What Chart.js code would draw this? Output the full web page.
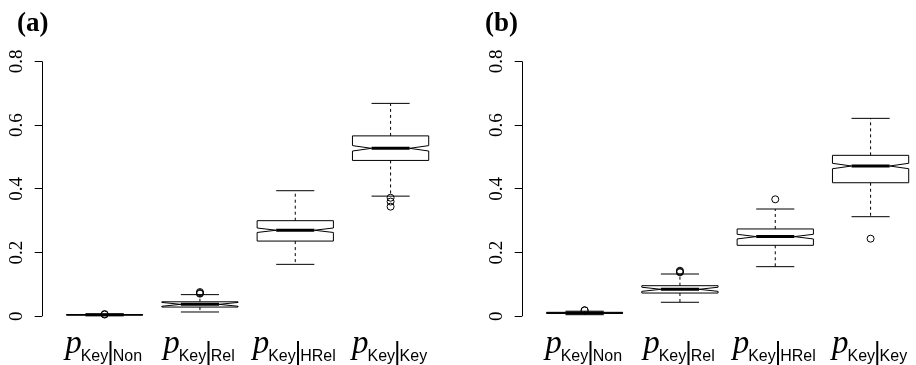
<!DOCTYPE html>
<html>
<head>
<meta charset="utf-8">
<script src="https://cdn.jsdelivr.net/npm/chart.js@4.4.1/dist/chart.umd.min.js"></script>
<style>
  html, body { margin: 0; padding: 0; background: #fff; overflow: hidden; width: 916px; height: 365px; }
  .panel { position: absolute; top: 0; height: 365px; overflow: hidden; }
</style>
</head>
<body>
<div class="panel" style="left:0;width:458px"><canvas id="chartA" width="458" height="365"></canvas></div>
<div class="panel" style="left:458px;width:458px"><canvas id="chartB" width="480" height="365"></canvas></div>
<script>
const categories = ['Non', 'Rel', 'HRel', 'Key'];
const yTicks = [0, 0.2, 0.4, 0.6, 0.8];

// panel (a)
const aLow   = [0.002, 0.0135, 0.163, 0.377];
const aQ1    = [0.004, 0.029, 0.236, 0.489];
const aMed   = [0.0045, 0.0375, 0.270, 0.527];
const aQ3    = [0.0055, 0.0455, 0.300, 0.566];
const aHigh  = [0.007, 0.068, 0.394, 0.668];
const aNotch = [0.0005, 0.006, 0.007, 0.0085];
const aOutliers = [[0.007, 0.0055], [0.076, 0.073, 0.071], [], [0.372, 0.360, 0.344]];

// panel (b)
const bLow   = [0.005, 0.044, 0.1557, 0.3125];
const bQ1    = [0.009, 0.073, 0.2227, 0.419];
const bMed   = [0.0105, 0.0847, 0.250, 0.4715];
const bQ3    = [0.0125, 0.096, 0.274, 0.505];
const bHigh  = [0.016, 0.1327, 0.3366, 0.621];
const bNotch = [0.001, 0.0065, 0.0073, 0.0085];
const bOutliers = [[0.019, 0.0185], [0.143, 0.140, 0.138], [0.367], [0.2435]];

function line(ctx, x1, y1, x2, y2) {
  ctx.beginPath(); ctx.moveTo(x1, y1); ctx.lineTo(x2, y2); ctx.stroke();
}

function makePanel(id, title, titleX, padRight, yWidth, low, q1, med, q3, high, notch, outliers) {
  const pts = [];
  outliers.forEach((arr, i) => arr.forEach(v => pts.push({ x: i + 1, y: v })));

  // R style notched boxes, drawn through the chart scales
  const boxPlugin = {
    id: 'rbox',
    beforeDatasetsDraw(chart) {
      const ctx = chart.ctx, xs = chart.scales.x, ys = chart.scales.y;
      const Y = v => ys.getPixelForValue(v);
      ctx.save();
      ctx.strokeStyle = '#000';
      categories.forEach((c, i) => {
        const x = xs.getPixelForValue(i + 1);
        const hw = xs.getPixelForValue(i + 1.4) - x, qw = hw / 2;
        ctx.lineWidth = 1;
        ctx.setLineDash([3, 3]);
        line(ctx, x, Y(q3[i]), x, Y(high[i]));
        line(ctx, x, Y(q1[i]), x, Y(low[i]));
        ctx.setLineDash([]);
        line(ctx, x - qw, Y(high[i]), x + qw, Y(high[i]));
        line(ctx, x - qw, Y(low[i]), x + qw, Y(low[i]));
        const n = notch[i], m = med[i];
        ctx.beginPath();
        ctx.moveTo(x - hw, Y(q1[i]));
        ctx.lineTo(x - hw, Y(m - n));
        ctx.lineTo(x - qw, Y(m));
        ctx.lineTo(x - hw, Y(m + n));
        ctx.lineTo(x - hw, Y(q3[i]));
        ctx.lineTo(x + hw, Y(q3[i]));
        ctx.lineTo(x + hw, Y(m + n));
        ctx.lineTo(x + qw, Y(m));
        ctx.lineTo(x + hw, Y(m - n));
        ctx.lineTo(x + hw, Y(q1[i]));
        ctx.closePath();
        ctx.stroke();
        ctx.lineWidth = 3;
        line(ctx, x - qw, Y(m), x + qw, Y(m));
      });
      ctx.restore();
    },
    afterDraw(chart) {
      const ctx = chart.ctx, xs = chart.scales.x, ys = chart.scales.y;
      ctx.save();
      // y axis line only between first and last tick
      ctx.strokeStyle = '#000'; ctx.lineWidth = 1;
      const ax = Math.round(chart.chartArea.left) + 0.5;
      line(ctx, ax, ys.getPixelForValue(yTicks[0]), ax, ys.getPixelForValue(yTicks[yTicks.length - 1]));
      ctx.fillStyle = '#000';
      ctx.textBaseline = 'alphabetic';
      // panel letter
      ctx.font = 'bold 27px "Liberation Serif"';
      ctx.fillText(title, titleX, 31);
      // x labels p_{Key|cat}
      const fP = 'italic 33px "Liberation Serif"', fS = '16px "Liberation Sans"', fBar = '25px "Liberation Sans"';
      categories.forEach((c, i) => {
        const x = xs.getPixelForValue(i + 1);
        ctx.font = fP; const wp = ctx.measureText('p').width - 1;
        ctx.font = fS; const wk = ctx.measureText('Key').width, wc = ctx.measureText(c).width;
        ctx.font = fBar; const wb = ctx.measureText('|').width - 2;
        let cx = x - (wp + wk + wb + wc) / 2 - 1;
        ctx.font = fP; ctx.fillText('p', cx, 353); cx += wp;
        ctx.font = fS; ctx.fillText('Key', cx, 361); cx += wk - 1;
        ctx.font = fBar; ctx.fillText('|', cx, 360); cx += wb + 1;
        ctx.font = fS; ctx.fillText(c, cx, 361);
      });
      ctx.restore();
    }
  };

  new Chart(document.getElementById(id), {
    type: 'scatter',
    data: {
      datasets: [{
        data: pts,
        pointRadius: 3.5, pointHoverRadius: 3.5,
        pointBackgroundColor: 'rgba(0,0,0,0)', pointBorderColor: '#000', pointBorderWidth: 1
      }]
    },
    options: {
      responsive: false, animation: false, events: [],
      layout: { padding: { left: 0, right: padRight, top: 51.1, bottom: 38.5 } },
      plugins: {
        legend: { display: false },
        tooltip: { enabled: false },
        title: { display: false }
      },
      scales: {
        x: { type: 'linear', display: false, min: 0.34, max: 4.66 },
        y: {
          type: 'linear', min: -0.032, max: 0.832,
          afterFit: s => { s.width = yWidth; },
          afterBuildTicks: s => { s.ticks = yTicks.map(v => ({ value: v })); },
          grid: { drawOnChartArea: false, color: '#000', tickLength: 7, tickWidth: 1 },
          border: { display: false },
          ticks: {
            color: '#000', font: { family: 'Liberation Serif', size: 19 },
            minRotation: 90, maxRotation: 90, crossAlign: 'center', padding: 6,
            callback: v => String(v)
          }
        }
      }
    },
    plugins: [boxPlugin]
  });
}

makePanel('chartA', '(a)', 17, 0.5, 41.7, aLow, aQ1, aMed, aQ3, aHigh, aNotch, aOutliers);
makePanel('chartB', '(b)', 27, 0, 63.7, bLow, bQ1, bMed, bQ3, bHigh, bNotch, bOutliers);
</script>
</body>
</html>
